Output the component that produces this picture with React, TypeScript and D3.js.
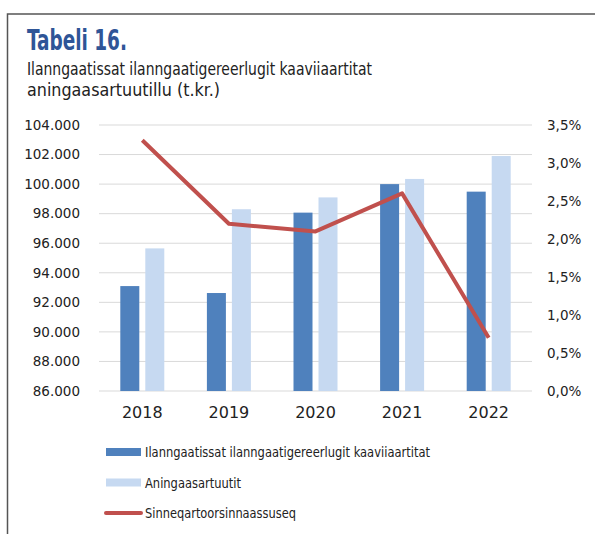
import React from 'react';
import * as d3 from 'd3';

const years = ['2018', '2019', '2020', '2021', '2022'];
const taxValues = [93100, 92630, 98070, 100000, 99490];
const incomeValues = [95650, 98300, 99100, 100350, 101900];
const shareValues = [0.033, 0.022, 0.021, 0.026, 0.007];
const leftTicks = [86000, 88000, 90000, 92000, 94000, 96000, 98000, 100000, 102000, 104000];
const rightTicks = [0, 0.005, 0.01, 0.015, 0.02, 0.025, 0.03, 0.035];
const seriesNames = [
  'Ilanngaatissat ilanngaatigereerlugit kaaviiaartitat',
  'Aningaasartuutit',
  'Sinneqartoorsinnaassuseq',
];

const width = 595;
const height = 534;
const margin = { top: 125, right: 63, bottom: 143, left: 99 };

const colors = { tax: '#4F81BD', income: '#C6D9F1', line: '#C0504D' };
const condensed = "'Liberation Sans Narrow', 'DejaVu Sans Condensed', 'Roboto Condensed', 'Noto Sans', sans-serif";
const axisFont = "'DejaVu Sans', Verdana, sans-serif";

const fmtLeft = (d: number) => d3.format(',')(d).replace(/,/g, '.');
const fmtRight = (d: number) => d3.format('.1f')(d * 100).replace('.', ',') + '%';

export default function App() {
  const x = d3.scaleBand().domain(years).range([margin.left, width - margin.right]);
  const yLeft = d3.scaleLinear().domain([86000, 104000]).range([height - margin.bottom, margin.top]);
  const yRight = d3.scaleLinear().domain([0, 0.035]).range([height - margin.bottom, margin.top]);

  const barW = 19;
  const gap = 6;

  const line = d3.line<number>()
    .x((_, i) => (x(years[i]) as number) + x.bandwidth() / 2)
    .y(d => yRight(d));

  const legendRows = [
    { name: seriesNames[0], kind: 'bar', color: colors.tax, len: 285 },
    { name: seriesNames[1], kind: 'bar', color: colors.income, len: 96 },
    { name: seriesNames[2], kind: 'line', color: colors.line, len: 151 },
  ];

  return (
    <svg width={width} height={height} style={{ position: 'absolute', left: 0, top: 0, background: '#fff' }}>
      {/* frame */}
      <path d={`M7.5,${height} V14 H${width}`} fill="none" stroke="#555" strokeWidth={1.5} />

      {/* title */}
      <text x={27} y={50} fontFamily={condensed} fontWeight="bold" fontSize={28} fill="#2F5597"
        textLength={100} lengthAdjust="spacingAndGlyphs">Tabeli 16.</text>
      <text x={27} y={75} fontFamily={condensed} fontSize={17} fill="#222"
        textLength={345} lengthAdjust="spacingAndGlyphs">
        Ilanngaatissat ilanngaatigereerlugit kaaviiaartitat
      </text>
      <text x={27} y={96} fontFamily={condensed} fontSize={17} fill="#222"
        textLength={193} lengthAdjust="spacingAndGlyphs">
        aningaasartuutillu  (t.kr.)
      </text>

      {/* gridlines */}
      {leftTicks.map(t => (
        <line key={t} x1={margin.left} x2={width - margin.right} y1={yLeft(t)} y2={yLeft(t)} stroke="#D9D9D9" strokeWidth={1} />
      ))}

      {/* left axis labels */}
      {leftTicks.map(t => (
        <text key={t} x={80} y={yLeft(t)} dy="0.35em" textAnchor="end" fontFamily={axisFont} fontSize={13.5} fill="#222">
          {fmtLeft(t)}
        </text>
      ))}

      {/* right axis labels */}
      {rightTicks.map(t => (
        <text key={t} x={547} y={yRight(t)} dy="0.35em" textAnchor="start" fontFamily={axisFont} fontSize={13.5} fill="#222">
          {fmtRight(t)}
        </text>
      ))}

      {/* bars */}
      {years.map((yr, i) => {
        const cx = (x(yr) as number) + x.bandwidth() / 2;
        return (
          <g key={yr}>
            <rect x={cx - gap / 2 - barW} y={yLeft(taxValues[i])} width={barW}
              height={yLeft(86000) - yLeft(taxValues[i])} fill={colors.tax} />
            <rect x={cx + gap / 2} y={yLeft(incomeValues[i])} width={barW}
              height={yLeft(86000) - yLeft(incomeValues[i])} fill={colors.income} />
            <text x={cx} y={height - margin.bottom + 27} textAnchor="middle" fontFamily={axisFont} fontSize={16} fill="#222">
              {yr}
            </text>
          </g>
        );
      })}

      {/* line */}
      <path d={line(shareValues) || ''} fill="none" stroke={colors.line} strokeWidth={4} strokeLinejoin="round" />

      {/* legend */}
      {legendRows.map((r, i) => {
        const ly = 452 + i * 30.5;
        return (
          <g key={r.name}>
            {r.kind === 'bar'
              ? <rect x={106} y={ly - 4} width={35} height={8} fill={r.color} />
              : <line x1={106} x2={141} y1={ly} y2={ly} stroke={r.color} strokeWidth={4} strokeLinecap="round" />}
            <text x={145} y={ly} dy="0.35em" fontFamily={condensed} fontSize={14.5} fill="#222"
              textLength={r.len} lengthAdjust="spacingAndGlyphs">{r.name}</text>
          </g>
        );
      })}
    </svg>
  );
}
